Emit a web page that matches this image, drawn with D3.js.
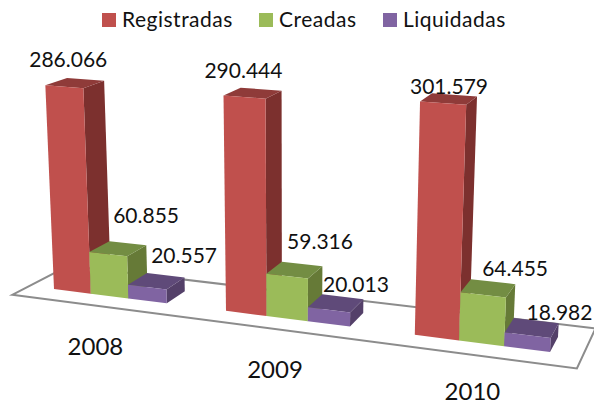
<!DOCTYPE html>
<html>

<head>
  <meta charset="utf-8">
  <title>Registradas, Creadas, Liquidadas</title>
  <script type="text/javascript" src="https://cdn.jsdelivr.net/npm/d3@7"></script>
  <style>
    html, body {
      margin: 0;
      padding: 0;
      background-color: white;
    }
    svg {
      display: block;
    }
    text {
      font-family: Lato, Carlito, sans-serif;
      fill: #111;
    }
  </style>
</head>

<body>
  <script type="text/javascript">

    // Data
    const years = ["2008", "2009", "2010"];
    const seriesNames = ["Registradas", "Creadas", "Liquidadas"];
    const registradas = [286066, 290444, 301579];
    const creadas = [60855, 59316, 64455];
    const liquidadas = [20557, 20013, 18982];
    const seriesValues = [registradas, creadas, liquidadas];

    const w = 594;
    const h = 404;

    // front, side, top
    const colors = [
      ["#c0504d", "#7c302e", "#8f3b39"],
      ["#9bbb59", "#667a37", "#738d43"],
      ["#8064a2", "#544069", "#5f4a79"]
    ];

    const svg = d3.select("body")
      .append("svg")
      .attr("width", w)
      .attr("height", h);

    // Scales. Slots are bar widths along the floor, a group is 4.5 slots
    const groupStep = 4.5;
    const slotOffset = 43.8;
    const xScale = d3.scalePow().exponent(2)
      .domain([slotOffset, slotOffset + 12])
      .range([54, 550]);
    const floorY = d3.scaleLinear().domain([54, 550]).range([289, 352]);
    const depthX = d3.scaleLinear().domain([167, 550]).range([18, 8]);
    const depthY = d3.scaleLinear().domain([167, 550]).range([-12.2, -15.1]);
    const valueScale = d3.scalePow().exponent(1.03).domain([0, 300000]).range([0, 1]);
    const heightAt = d3.scaleLinear().domain([54, 550]).range([214, 239]);

    // slot, depth and value to a point on screen
    function project(slot, depth, value) {
      const x0 = xScale(slot + slotOffset);
      const s = valueScale(value) * heightAt(x0);
      const gx = x0 + depth * depthX(x0);
      const gy = floorY(x0) + depth * depthY(x0) * (1 - 0.0018 * s);
      return [gx + 0.00018 * (gx - 290) * s, gy - s];
    }

    function face(points, color) {
      svg.append("polygon")
        .attr("points", points.map(function (p) { return p.join(","); }).join(" "))
        .attr("fill", color);
    }

    // Floor
    const floorLeft = -0.68;
    const floorRight = 12.7;
    svg.append("polygon")
      .attr("points", [
        project(floorLeft, -0.8, 0),
        project(floorRight, -0.8, 0),
        project(floorRight, 1.8, 0),
        project(floorLeft, 1.8, 0)
      ].map(function (p) { return p.join(","); }).join(" "))
      .attr("fill", "white")
      .attr("stroke", "#8c8c8c")
      .attr("stroke-width", 2);

    // Bars
    years.forEach(function (year, i) {
      seriesValues.forEach(function (values, j) {
        const a = i * groupStep + j;
        const b = a + 1;
        const v = values[i];
        const c = colors[j];
        face([project(b, 0, 0), project(b, 0, v), project(b, 1, v), project(b, 1, 0)], c[1]);
        face([project(a, 0, v), project(b, 0, v), project(b, 1, v), project(a, 1, v)], c[2]);
        face([project(a, 0, 0), project(b, 0, 0), project(b, 0, v), project(a, 0, v)], c[0]);
      });
    });

    // Value labels, nudged from the middle of the bar top
    const format = d3.formatLocale({ decimal: ",", thousands: ".", grouping: [3], currency: ["", ""] }).format(",d");
    const labelNudge = [
      [[4, -20], [38, -31], [37, -24]],
      [[-1, -19], [33, -27], [27, -18]],
      [[6, -9], [32, -19], [32, -15]]
    ];
    years.forEach(function (year, i) {
      seriesValues.forEach(function (values, j) {
        const p = project(i * groupStep + j + 0.5, 0, values[i]);
        svg.append("text")
          .attr("x", p[0] + labelNudge[i][j][0])
          .attr("y", p[1] + labelNudge[i][j][1])
          .attr("text-anchor", "middle")
          .attr("font-size", "21px")
          .text(format(values[i]));
      });
    });

    // Year labels
    const yearNudge = [[-14, 59], [-12, 59], [-9, 57]];
    years.forEach(function (year, i) {
      const p = project(i * groupStep + 1.5, 0, 0);
      svg.append("text")
        .attr("x", p[0] + yearNudge[i][0])
        .attr("y", p[1] + yearNudge[i][1])
        .attr("text-anchor", "middle")
        .attr("font-size", "24px")
        .text(year);
    });

    // Legend
    const legendX = d3.scaleOrdinal().domain(seriesNames).range([102, 259, 383]);
    seriesNames.forEach(function (name, j) {
      svg.append("rect")
        .attr("x", legendX(name))
        .attr("y", 13)
        .attr("width", 14)
        .attr("height", 14)
        .attr("fill", colors[j][0]);
      svg.append("text")
        .attr("x", legendX(name) + 20)
        .attr("y", 27)
        .attr("font-size", "21px")
        .attr("letter-spacing", "0.5px")
        .text(name);
    });

  </script>
</body>

</html>
